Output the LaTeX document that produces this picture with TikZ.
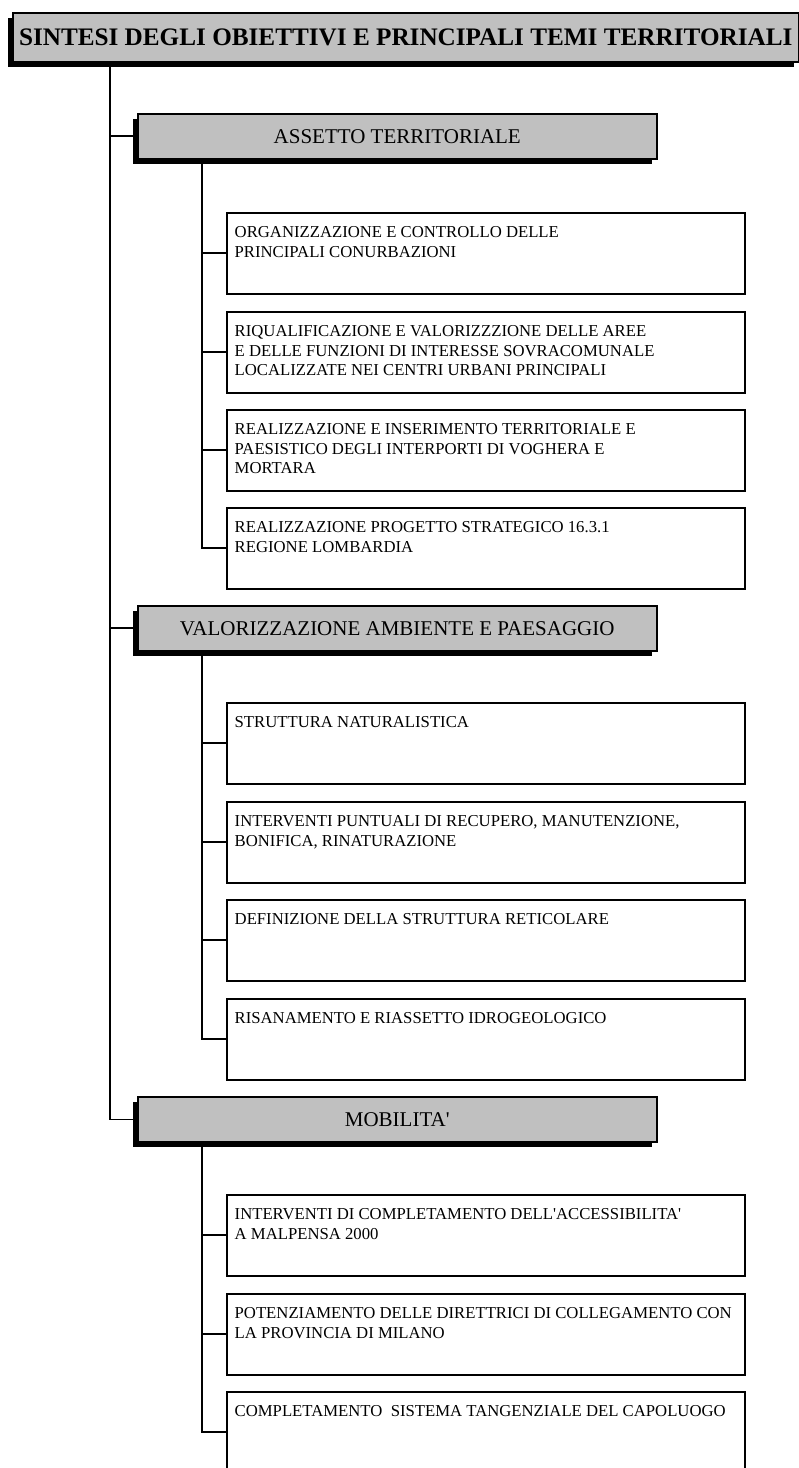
\documentclass[tikz,border=0pt]{standalone}
\usepackage{fontspec}
\setmainfont{Liberation Serif}
\usetikzlibrary{positioning,shadows}
\definecolor{boxgray}{RGB}{192,192,192}
\tikzset{
  headbox/.style={draw=black, fill=boxgray, line width=1.5pt, anchor=north west, inner sep=0pt,
    drop shadow={shadow xshift=-5pt, shadow yshift=-5.5pt, fill=black, opacity=1}},
  subbox/.style={draw=black, line width=1.8pt, anchor=north west, inner sep=0pt,
    minimum width=518pt, minimum height=81pt},
  subtext/.style={anchor=north west, inner sep=0pt, align=left,
    font=\fontsize{16.7}{19.5}\selectfont},
  trunkline/.style={line width=1.5pt},
  link/.style={line width=2pt}
}
\begin{document}
\begin{tikzpicture}[x=1pt,y=1pt,yscale=-1,xscale=1]
	\useasboundingbox (0,0) rectangle (799,1468);
	
	%Shape: Rectangle [title]
	\node[headbox, minimum width=786pt, minimum height=49pt, font=\fontsize{25.2}{30}\selectfont\bfseries] (title) at (12,12) {SINTESI DEGLI OBIETTIVI E PRINCIPALI TEMI TERRITORIALI};
	
	%Shape: Rectangle [sections]
	\node[headbox, minimum width=519pt, minimum height=45pt, font=\fontsize{21}{25}\selectfont] (assetto) at (137,113) {ASSETTO TERRITORIALE};
	\node[headbox, minimum width=519pt, minimum height=45pt, font=\fontsize{21}{25}\selectfont] (ambiente) at (137,605) {VALORIZZAZIONE AMBIENTE E PAESAGGIO};
	\node[headbox, minimum width=519pt, minimum height=45pt, font=\fontsize{21}{25}\selectfont] (mobilita) at (137,1096) {MOBILITA\textquotesingle};
	
	%Shape: Rectangle [assetto territoriale]
	\node[subbox] (at1) at (226,212) {};
	\node[subbox] (at2) at (226,311) {};
	\node[subbox] (at3) at (226,409) {};
	\node[subbox] (at4) at (226,507) {};
	%Shape: Rectangle [ambiente e paesaggio]
	\node[subbox] (ap1) at (226,702) {};
	\node[subbox] (ap2) at (226,801) {};
	\node[subbox] (ap3) at (226,899) {};
	\node[subbox] (ap4) at (226,998) {};
	%Shape: Rectangle [mobilita]
	\node[subbox] (mo1) at (226,1194) {};
	\node[subbox] (mo2) at (226,1293) {};
	\node[subbox] (mo3) at (226,1391) {};
	
	% Text Node
	\node[subtext] at ([shift={(8.5,14.5)}]at1.north west) {ORGANIZZAZIONE E CONTROLLO DELLE\\PRINCIPALI CONURBAZIONI};
	\node[subtext] at ([shift={(8.5,14.5)}]at2.north west) {RIQUALIFICAZIONE E VALORIZZZIONE DELLE AREE\\E DELLE FUNZIONI DI INTERESSE SOVRACOMUNALE\\LOCALIZZATE NEI CENTRI URBANI PRINCIPALI};
	\node[subtext] at ([shift={(8.5,14.5)}]at3.north west) {REALIZZAZIONE E INSERIMENTO TERRITORIALE E\\PAESISTICO DEGLI INTERPORTI DI VOGHERA E\\MORTARA};
	\node[subtext] at ([shift={(8.5,14.5)}]at4.north west) {REALIZZAZIONE PROGETTO STRATEGICO 16.3.1\\REGIONE LOMBARDIA};
	% Text Node
	\node[subtext] at ([shift={(8.5,14.5)}]ap1.north west) {STRUTTURA NATURALISTICA};
	\node[subtext] at ([shift={(8.5,14.5)}]ap2.north west) {INTERVENTI PUNTUALI DI RECUPERO, MANUTENZIONE,\\BONIFICA, RINATURAZIONE};
	\node[subtext] at ([shift={(8.5,14.5)}]ap3.north west) {DEFINIZIONE DELLA STRUTTURA RETICOLARE};
	\node[subtext] at ([shift={(8.5,14.5)}]ap4.north west) {RISANAMENTO E RIASSETTO IDROGEOLOGICO};
	% Text Node
	\node[subtext] at ([shift={(8.5,14.5)}]mo1.north west) {INTERVENTI DI COMPLETAMENTO DELL\textquotesingle ACCESSIBILITA\textquotesingle\\A MALPENSA 2000};
	\node[subtext] at ([shift={(8.5,14.5)}]mo2.north west) {POTENZIAMENTO DELLE DIRETTRICI DI COLLEGAMENTO CON\\LA PROVINCIA DI MILANO};
	\node[subtext] at ([shift={(8.5,14.5)}]mo3.north west) {COMPLETAMENTO\ \ SISTEMA TANGENZIALE DEL CAPOLUOGO};
	
	%Straight Lines [trunk]
	\coordinate (trunk) at (title.south west -| 110,0);
	\draw[trunkline] (trunk) |- (mobilita.west);
	\draw[link] (trunk |- assetto.west) -- (assetto.west);
	\draw[link] (trunk |- ambiente.west) -- (ambiente.west);
	
	%Straight Lines [branches]
	\coordinate (br1) at (assetto.south west -| 201.5,0);
	\draw[link] (br1) |- (at4.west);
	\foreach \b in {at1,at2,at3} \draw[link] (br1 |- \b.west) -- (\b.west);
	\coordinate (br2) at (ambiente.south west -| 201.5,0);
	\draw[link] (br2) |- (ap4.west);
	\foreach \b in {ap1,ap2,ap3} \draw[link] (br2 |- \b.west) -- (\b.west);
	\coordinate (br3) at (mobilita.south west -| 201.5,0);
	\draw[link] (br3) |- (mo3.west);
	\foreach \b in {mo1,mo2} \draw[link] (br3 |- \b.west) -- (\b.west);
\end{tikzpicture}
\end{document}
